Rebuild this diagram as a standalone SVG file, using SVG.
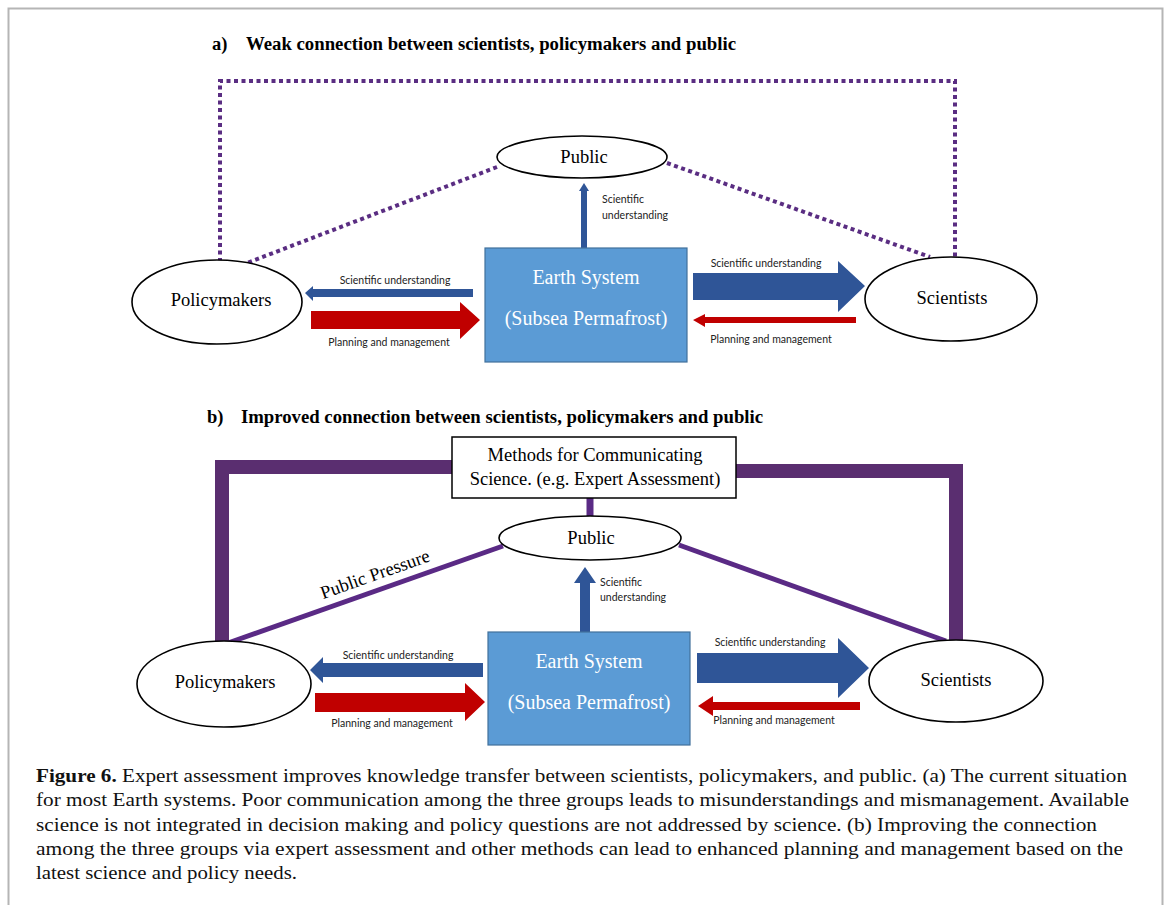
<svg xmlns="http://www.w3.org/2000/svg" width="1171" height="905" viewBox="0 0 1171 905">
<style>
.title{font-family:"Liberation Serif",serif;font-weight:bold;font-size:18.5px;fill:#000}
.node{font-family:"Liberation Serif",serif;font-size:18.5px;fill:#000}
.earth{font-family:"Liberation Serif",serif;font-size:20px;fill:#fff;text-anchor:middle}
.small{font-family:"Lato","Open Sans",sans-serif;font-size:10.5px;fill:#222}
.ell{fill:#fff;stroke:#000;stroke-width:1.6}
.box{fill:#5b9bd5;stroke:#41719c;stroke-width:1.2}
.dot{fill:none;stroke:#5a2d82;stroke-width:4;stroke-dasharray:4 3.5}
.thick{fill:none;stroke:#5a2e70;stroke-width:14}
.thin{fill:none;stroke:#5a2a85;stroke-width:5}
.blue{fill:#2f5597}
.red{fill:#c00000}
.cap{font-family:"Liberation Serif",serif;font-size:19px;fill:#111}
</style>
<rect width="1171" height="905" fill="#fff"/>
<rect x="8.5" y="8.5" width="1154" height="940" fill="none" stroke="#b5b5b5" stroke-width="2"/>

<g id="title-a">
<text class="title" x="212" y="50">a)</text>
<text class="title" x="246" y="50" textLength="490" lengthAdjust="spacingAndGlyphs">Weak connection between scientists, policymakers and public</text>
</g>
<g id="title-b">
<text class="title" x="207" y="423">b)</text>
<text class="title" x="241" y="423" textLength="522" lengthAdjust="spacingAndGlyphs">Improved connection between scientists, policymakers and public</text>
</g>

<g id="connectors">
<polyline class="dot" points="220,262 220,81 955,81 955,258"/>
<line class="dot" x1="497" y1="167" x2="247" y2="263"/>
<line class="dot" x1="667" y1="163" x2="930" y2="257"/>
<polyline class="thick" points="222,642 222,467 452,467"/>
<polyline class="thick" points="736,471 956,471 956,642"/>
<line x1="590" y1="498" x2="590" y2="517" stroke="#5a2a85" stroke-width="7"/>
<line class="thin" x1="503" y1="546" x2="228" y2="643"/>
<line class="thin" x1="679" y1="545" x2="946" y2="641"/>
<text class="node" font-size="17" transform="translate(377,580) rotate(-19.5)" text-anchor="middle">Public Pressure</text>

<polygon class="blue" points="473,289 313,289 313,286 305,293 313,301 313,297 473,297"/>
<polygon class="red" points="311,311 460,311 460,302 480,320 460,339 460,329 311,329"/>
<polygon class="blue" points="693,273 838,273 838,261 865,286 838,312 838,300 693,300"/>
<polygon class="red" points="856,317 705,317 705,314 693,320 705,327 705,323 856,323"/>
<polygon class="blue" points="581,248 581,191 579,191 584,183 589,191 587,191 587,248"/>
<polygon class="blue" points="483,663 323,663 323,657 310,670 323,683 323,677 483,677"/>
<polygon class="red" points="315,693 465,693 465,683 485,702 465,721 465,712 315,712"/>
<polygon class="blue" points="697,653 838,653 838,638 869,668 838,698 838,683 697,683"/>
<polygon class="red" points="860,702 713,702 713,696 698,706 713,716 713,710 860,710"/>
<polygon class="blue" points="580,632 580,583 574,583 585,567 596,583 590,583 590,632"/>

<text class="small" x="395" y="284" text-anchor="middle">Scientific understanding</text>
<text class="small" x="389" y="346" text-anchor="middle">Planning and management</text>
<text class="small" x="766" y="267" text-anchor="middle">Scientific understanding</text>
<text class="small" x="771" y="343" text-anchor="middle">Planning and management</text>
<text class="small" x="602" y="203">Scientific</text>
<text class="small" x="602" y="219">understanding</text>
<text class="small" x="398" y="659" text-anchor="middle">Scientific understanding</text>
<text class="small" x="392" y="727" text-anchor="middle">Planning and management</text>
<text class="small" x="770" y="646" text-anchor="middle">Scientific understanding</text>
<text class="small" x="774" y="724" text-anchor="middle">Planning and management</text>
<text class="small" x="600" y="586">Scientific</text>
<text class="small" x="600" y="601">understanding</text>
</g>

<g id="public-a">
<ellipse class="ell" cx="582" cy="157" rx="85" ry="21"/>
<text class="node" x="584" y="163" text-anchor="middle">Public</text>
</g>
<g id="policymakers-a">
<ellipse class="ell" cx="217" cy="302" rx="85" ry="42"/>
<text class="node" x="221" y="306" text-anchor="middle">Policymakers</text>
</g>
<g id="earth-a">
<rect class="box" x="485" y="248" width="202" height="114"/>
<text class="earth" x="586" y="284">Earth System</text>
<text class="earth" x="586" y="325">(Subsea Permafrost)</text>
</g>
<g id="scientists-a">
<ellipse class="ell" cx="951" cy="299" rx="86" ry="42"/>
<text class="node" x="952" y="304" text-anchor="middle">Scientists</text>
</g>

<g id="methods-b">
<rect x="452" y="437" width="284" height="61" fill="#fff" stroke="#000" stroke-width="1.5"/>
<text class="node" x="595" y="461" text-anchor="middle">Methods for Communicating</text>
<text class="node" x="595" y="485" text-anchor="middle">Science. (e.g. Expert Assessment)</text>
</g>
<g id="public-b">
<ellipse class="ell" cx="590" cy="538" rx="91" ry="22"/>
<text class="node" x="591" y="544" text-anchor="middle">Public</text>
</g>
<g id="policymakers-b">
<ellipse class="ell" cx="224" cy="684" rx="87" ry="43"/>
<text class="node" x="225" y="688" text-anchor="middle">Policymakers</text>
</g>
<g id="earth-b">
<rect class="box" x="488" y="632" width="202" height="113"/>
<text class="earth" x="589" y="668">Earth System</text>
<text class="earth" x="589" y="709">(Subsea Permafrost)</text>
</g>
<g id="scientists-b">
<ellipse class="ell" cx="956" cy="681" rx="87" ry="41"/>
<text class="node" x="956" y="686" text-anchor="middle">Scientists</text>
</g>

<g id="caption">
<text class="cap" x="36" y="782" textLength="1091" lengthAdjust="spacingAndGlyphs"><tspan font-weight="bold">Figure 6.</tspan> Expert assessment improves knowledge transfer between scientists, policymakers, and public. (a) The current situation</text>
<text class="cap" x="36" y="806" textLength="1093" lengthAdjust="spacingAndGlyphs">for most Earth systems. Poor communication among the three groups leads to misunderstandings and mismanagement. Available</text>
<text class="cap" x="36" y="831" textLength="1061" lengthAdjust="spacingAndGlyphs">science is not integrated in decision making and policy questions are not addressed by science. (b) Improving the connection</text>
<text class="cap" x="36" y="855" textLength="1087" lengthAdjust="spacingAndGlyphs">among the three groups via expert assessment and other methods can lead to enhanced planning and management based on the</text>
<text class="cap" x="36" y="879" textLength="261" lengthAdjust="spacingAndGlyphs">latest science and policy needs.</text>
</g>
</svg>
